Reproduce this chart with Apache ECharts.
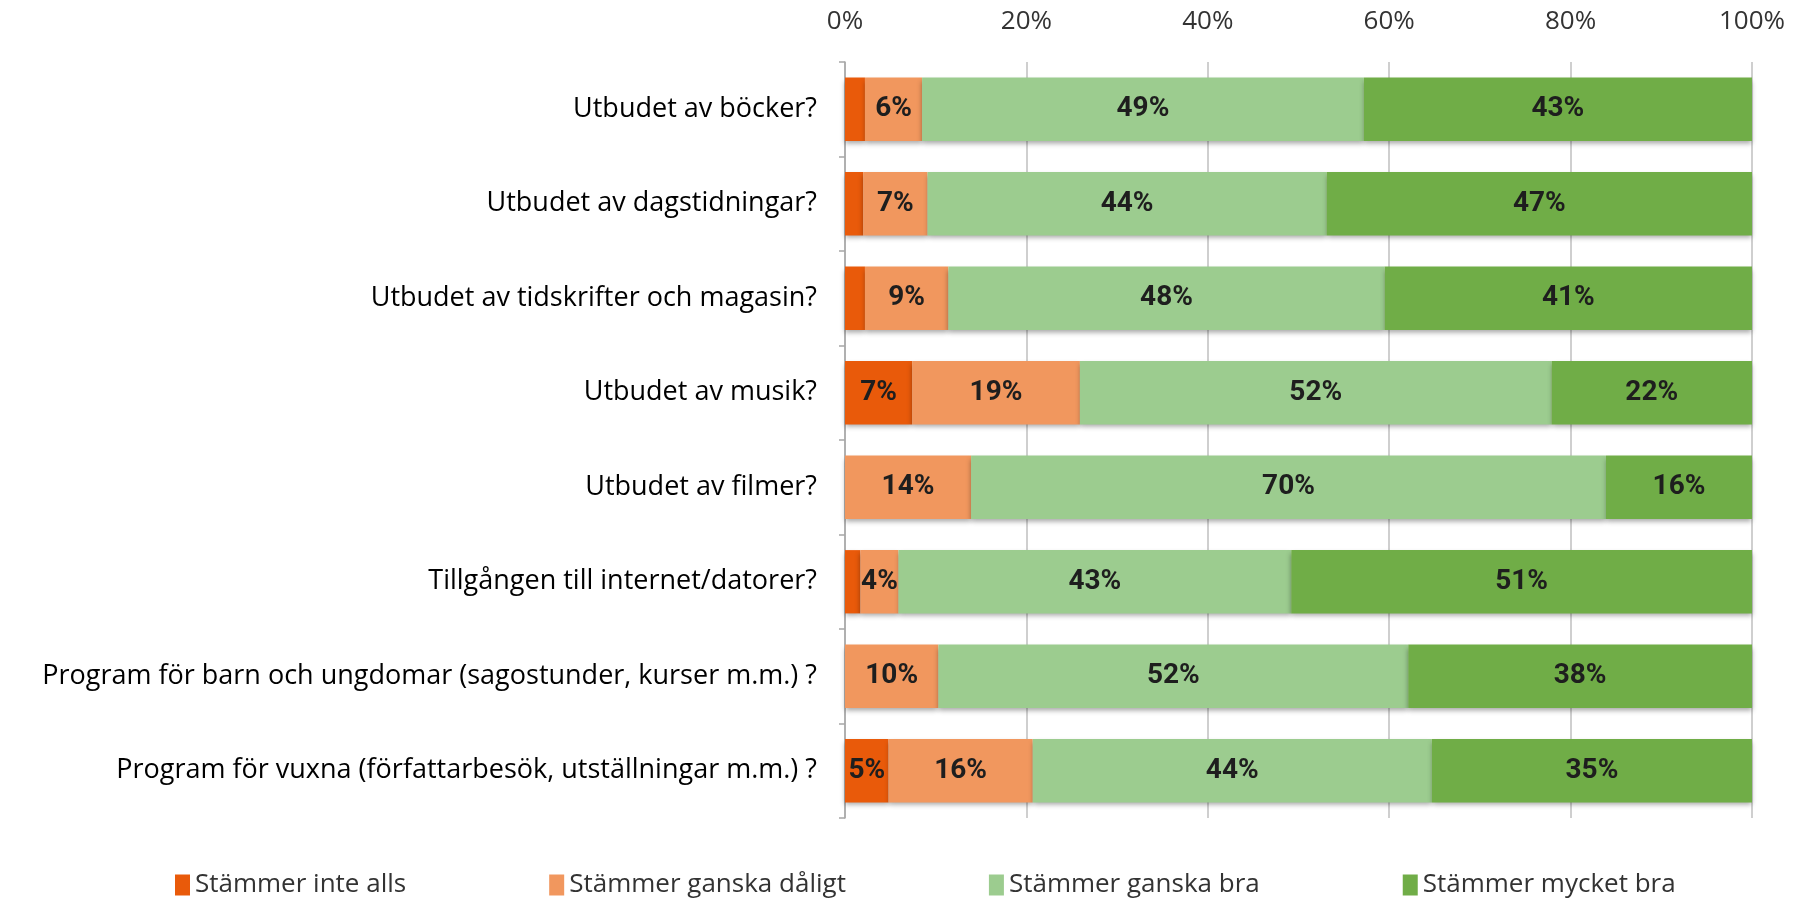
<!DOCTYPE html>
<html>
<head>
<meta charset="utf-8">
<script src="https://cdn.jsdelivr.net/npm/echarts@6/dist/echarts.min.js"></script>
<style>
  html, body { margin: 0; padding: 0; background: #fff; }
  #chart { width: 1808px; height: 900px; }
</style>
</head>
<body>
<div id="chart"></div>
<script>
const categories = [
  'Utbudet av böcker?',
  'Utbudet av dagstidningar?',
  'Utbudet av tidskrifter och magasin?',
  'Utbudet av musik?',
  'Utbudet av filmer?',
  'Tillgången till internet/datorer?',
  'Program för barn och ungdomar (sagostunder, kurser m.m.) ?',
  'Program för vuxna (författarbesök, utställningar m.m.) ?'
];
const seriesNames = ['Stämmer inte alls', 'Stämmer ganska dåligt', 'Stämmer ganska bra', 'Stämmer mycket bra'];
// andel i procent, läst från bilden
const inteAlls = [2.2, 2.0, 2.2, 7.4, 0, 1.7, 0, 4.8];
const gansDaligt = [6.3, 7.1, 9.2, 18.5, 13.9, 4.2, 10.3, 15.9];
const gansBra = [48.7, 44.0, 48.1, 52.0, 70.0, 43.3, 51.8, 44.0];
const mycketBra = [42.8, 46.9, 40.5, 22.1, 16.1, 50.8, 37.9, 35.3];
const tickLabels = ['0%', '20%', '40%', '60%', '80%', '100%'];

const colors = ['#E95A0A', '#F1975E', '#9CCC8F', '#70AD47'];

const myChart = echarts.init(document.getElementById('chart'));

function makeSeries(name, data) {
  return {
    name: name,
    type: 'bar',
    stack: 'total',
    barCategoryGap: '33%',
    data: data,
    itemStyle: {
      shadowColor: 'rgba(0,0,0,0.35)',
      shadowBlur: 5,
      shadowOffsetY: 3
    },
    label: {
      show: true,
      position: 'inside',
      color: '#1e1e1e',
      fontFamily: 'Roboto',
      fontWeight: 'bold',
      fontSize: 28,
      formatter: function (p) {
        return p.value >= 3 ? Math.round(p.value) + '%' : '';
      }
    }
  };
}

const option = {
  color: colors,
  animation: false,
  grid: {
    left: 845,
    right: 56,
    top: 62,
    bottom: 82
  },
  legend: {
    top: 867,
    left: 170,
    itemWidth: 15,
    itemHeight: 21,
    itemGap: 143,
    icon: 'rect',
    textStyle: {
      fontFamily: 'Open Sans',
      fontSize: 26,
      color: '#333'
    },
    data: seriesNames
  },
  xAxis: {
    type: 'value',
    position: 'top',
    min: 0,
    max: 100,
    interval: 20,
    axisLine: { show: false },
    axisTick: { show: false },
    splitLine: { show: true, lineStyle: { color: '#BFBFBF', width: 1.5 } },
    axisLabel: {
      margin: 27,
      fontFamily: 'Open Sans',
      fontSize: 26,
      color: '#333',
      formatter: function (v) { return tickLabels[v / 20]; }
    }
  },
  yAxis: {
    type: 'category',
    inverse: true,
    data: categories,
    axisLine: { show: true, lineStyle: { color: '#A6A6A6', width: 1.5 } },
    axisTick: { show: true, length: 6, lineStyle: { color: '#A6A6A6', width: 1.5 } },
    axisLabel: {
      margin: 28,
      fontFamily: 'Open Sans',
      fontSize: 27,
      color: '#000'
    }
  },
  series: [
    makeSeries(seriesNames[0], inteAlls),
    makeSeries(seriesNames[1], gansDaligt),
    makeSeries(seriesNames[2], gansBra),
    makeSeries(seriesNames[3], mycketBra)
  ]
};

myChart.setOption(option);
window.addEventListener('resize', function () {
  myChart.resize();
});
</script>
</body>
</html>
